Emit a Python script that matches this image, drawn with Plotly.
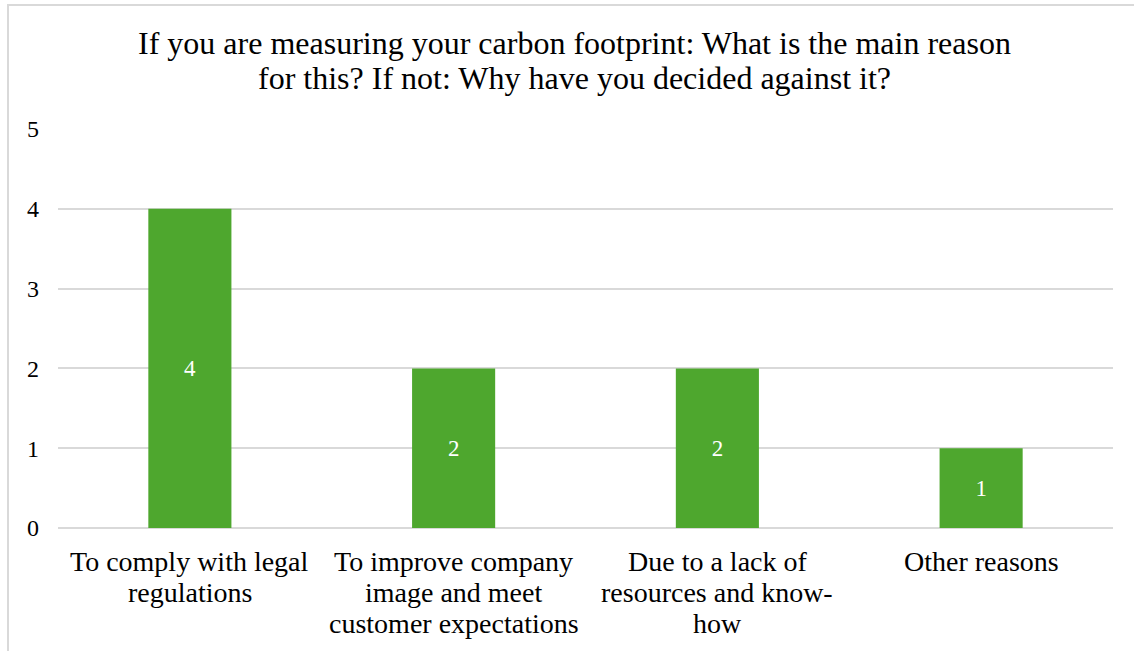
import plotly.graph_objects as go

# Survey answers and counts
categories = [
    "To comply with legal<br>regulations",
    "To improve company<br>image and meet<br>customer expectations",
    "Due to a lack of<br>resources and know-<br>how",
    "Other reasons",
]
counts = [4, 2, 2, 1]
y_ticks = [0, 1, 2, 3, 4, 5]

title_lines = [
    "If you are measuring your carbon footprint: What is the main reason",
    "for this? If not: Why have you decided against it?",
]

FONT = "Liberation Serif, Times New Roman, serif"
GREEN = "#4EA72E"
GRID = "#D9D9D9"

fig = go.Figure(
    go.Bar(
        x=categories,
        y=counts,
        marker=dict(color=GREEN, line=dict(width=0)),
        text=[str(v) for v in counts],
        textposition="inside",
        insidetextanchor="middle",
        textfont=dict(family=FONT, size=23, color="white"),
        hoverinfo="y",
    )
)

# Category labels: one annotation per line, for Word-like tight line spacing
annotations = []
for cat in categories:
    for i, line in enumerate(cat.split("<br>")):
        annotations.append(dict(
            x=cat, xref="x", y=0, yref="y",
            text=line, showarrow=False,
            xanchor="center", yanchor="middle",
            yshift=-(33 + 31 * i),
            font=dict(family=FONT, size=28, color="#000000"),
        ))

# Two-line title
for i, line in enumerate(title_lines):
    annotations.append(dict(
        x=0.49, xref="paper", y=1.2155 - 0.0877 * i, yref="paper",
        text=line, showarrow=False,
        xanchor="center", yanchor="middle",
        font=dict(family=FONT, size=32, color="#000000"),
    ))

fig.update_layout(
    width=1134,
    height=651,
    margin=dict(l=58, r=21, t=129, b=123),
    paper_bgcolor="white",
    plot_bgcolor="white",
    bargap=0.685,
    showlegend=False,
    font=dict(family=FONT, color="#000000"),
    annotations=annotations,
    xaxis=dict(
        showgrid=False,
        showline=False,
        zeroline=False,
        ticks="",
        showticklabels=False,
    ),
    yaxis=dict(
        range=[0, 5],
        tickvals=y_ticks,
        showgrid=True,
        gridcolor=GRID,
        gridwidth=1.5,
        zeroline=True,
        zerolinecolor=GRID,
        zerolinewidth=1.5,
        showline=False,
        ticks="",
        tickfont=dict(family=FONT, size=24, color="#000000"),
        ticklabelstandoff=18,
    ),
    shapes=[
        dict(
            type="rect",
            xref="paper",
            yref="paper",
            x0=-0.0474,
            x1=1.03,
            y0=-0.34,
            y1=1.3108,
            line=dict(color="#D9D9D9", width=2),
            fillcolor="rgba(0,0,0,0)",
            layer="below",
        )
    ],
)

fig.write_html("out.html")
